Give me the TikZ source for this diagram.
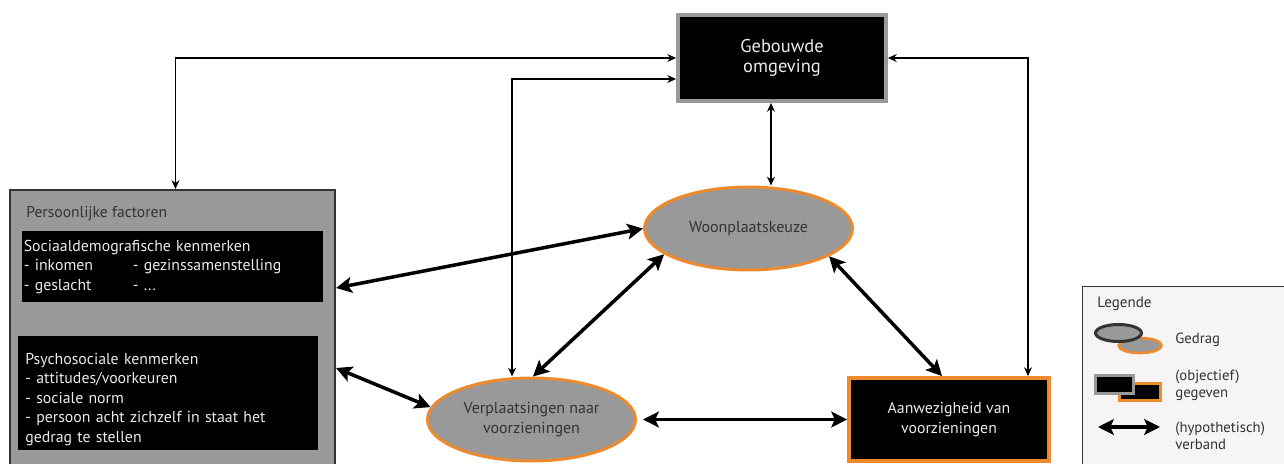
\documentclass[tikz,border=0pt]{standalone}
\usepackage{fontspec}
\setmainfont{PT Sans}
\usetikzlibrary{shapes.geometric, positioning, arrows.meta, calc}
\definecolor{oranje}{HTML}{EE8A2E}
\definecolor{grijs}{HTML}{999999}
\definecolor{donker}{HTML}{333333}
\definecolor{legendbg}{HTML}{F6F5F4}

\begin{document}
\begin{tikzpicture}[
    x=0.02cm, y=-0.02cm,
    given/.style={rectangle, fill=black, text=white!92!black, align=center, inner sep=0pt, font=\fontsize{9}{11.3}\selectfont},
    behaviour/.style={ellipse, fill=grijs, draw=oranje, line width=1.7pt, text=donker, align=center, inner sep=0pt, minimum width=4.16cm, minimum height=1.66cm, font=\fontsize{9.1}{11.3}\selectfont},
    kenmerk/.style={rectangle, fill=black, text=white!92!black, align=left, anchor=north west, inner ysep=0pt, font=\fontsize{9}{11.1}\selectfont},
    legtext/.style={anchor=west, inner sep=0pt, text=donker, align=left, font=\fontsize{8.4}{9.6}\selectfont},
    link/.style={{Stealth[length=9pt, width=9pt, inset=2pt]}-{Stealth[length=9pt, width=9pt, inset=2pt]}, line width=2pt},
    thinlink/.style={{Stealth[length=5pt, width=4.5pt]}-{Stealth[length=5pt, width=4.5pt]}, line width=0.8pt},
]
\useasboundingbox (0,0) rectangle (1284,463);

%% NODES
    % gebouwde omgeving
    \node[given, draw=grijs, line width=2.2pt, minimum width=4.16cm, minimum height=1.72cm, font=\fontsize{10.5}{11.5}\selectfont] (gebouwde_box) at (782,58) {Gebouwde\\omgeving};

    % persoonlijke factoren
    \node[rectangle, fill=grijs, draw=donker, line width=1.2pt, minimum width=6.5cm, minimum height=5.6cm] (persoon_box) at (172.5,330) {};
    \node[anchor=west, inner sep=0pt, text=donker, font=\fontsize{8.9}{11}\selectfont] (persoon_title) at (26,214) {Persoonlijke factoren};
    \node[kenmerk, inner xsep=0.03cm, text width=5.96cm, minimum height=1.42cm] (socio_box) at (22,231)
        {Sociaaldemografische kenmerken\\
         \makebox[2.18cm][l]{- inkomen}- gezinssamenstelling\\
         \makebox[2.18cm][l]{- geslacht}- ...};
    \node[kenmerk, inner xsep=0.14cm, text width=5.72cm, minimum height=2.28cm] (psycho_box) at (18,336)
        {\rule{0pt}{13pt}Psychosociale kenmerken\\
         - attitudes/voorkeuren\\
         - sociale norm\\
         - persoon acht zichzelf in staat het\\
         gedrag te stellen};

    % gedrag
    \node[behaviour] (woon_ell) at (748.5,228.5) {Woonplaatskeuze};
    \node[behaviour] (verpl_ell) at (531.5,419.5) {Verplaatsingen naar\\voorzieningen};

    % aanwezigheid
    \node[given, draw=oranje, line width=2.2pt, minimum width=4.0cm, minimum height=1.66cm] (aanw_box) at (949,419.5) {Aanwezigheid van\\voorzieningen};

    % legende
    \node[rectangle, fill=legendbg, draw=donker, line width=0.8pt, anchor=north west, minimum width=4.4cm, minimum height=4cm] (legend_box) at (1082,286) {};
    \node[anchor=west, inner sep=0pt, text=donker, font=\fontsize{8.6}{10}\selectfont] (legend_title) at (1097,304) {Legende};
    \node[ellipse, fill=grijs, draw=oranje, line width=1.5pt, minimum width=0.86cm, minimum height=0.3cm, inner sep=0pt] (legend_oranje_ell) at (1140,345.5) {};
    \node[ellipse, fill=grijs, draw=donker, line width=1.7pt, minimum width=0.92cm, minimum height=0.34cm, inner sep=0pt] (legend_donker_ell) at (1118.5,333) {};
    \node[rectangle, fill=black, draw=oranje, line width=1.7pt, minimum width=0.82cm, minimum height=0.34cm, inner sep=0pt] (legend_oranje_rect) at (1140,392) {};
    \node[rectangle, fill=black, draw=grijs, line width=2pt, minimum width=0.76cm, minimum height=0.36cm, inner sep=0pt] (legend_grijs_rect) at (1114.5,384.5) {};
    \coordinate (legend_arrow_start) at (1098,427);
    \coordinate (legend_arrow_end) at (1160,427);
    \node[legtext] (legend_gedrag) at (1175,340) {Gedrag};
    \node[legtext] (legend_gegeven) at (1175,385) {(objectief)\\gegeven};
    \node[legtext] (legend_verband) at (1175,436) {(hypothetisch)\\verband};

%% CONNECTIONS
    % persoonlijke factoren <-> gebouwde omgeving
    \draw[thinlink] ([xshift=0.06cm]persoon_box.north) |- (gebouwde_box.west);

    % verplaatsingen <-> gebouwde omgeving
    \draw[thinlink] ([xshift=-0.39cm]verpl_ell.north) |- ([yshift=-0.42cm]gebouwde_box.west);

    % gebouwde omgeving <-> woonplaatskeuze
    \draw[thinlink] ([xshift=-0.22cm]gebouwde_box.south) -- ([xshift=-0.22cm]gebouwde_box.south |- woon_ell.north);

    % gebouwde omgeving <-> aanwezigheid
    \draw[thinlink] (gebouwde_box.east) -| ([xshift=1.58cm]aanw_box.north);

    % persoonlijke factoren <-> woonplaatskeuze
    \draw[link] ([yshift=0.84cm]persoon_box.east) -- (woon_ell.west);

    % persoonlijke factoren <-> verplaatsingen
    \draw[link] ([yshift=-0.76cm]persoon_box.east) -- (verpl_ell.173);

    % woonplaatskeuze <-> verplaatsingen
    \draw[link] (woon_ell.197) -- (verpl_ell.88);

    % woonplaatskeuze <-> aanwezigheid
    \draw[link] (woon_ell.-19) -- ([xshift=-0.14cm]aanw_box.north);

    % verplaatsingen <-> aanwezigheid
    \draw[link] ([xshift=0.12cm]verpl_ell.east) -- (aanw_box.west |- verpl_ell.east);

    % legende
    \draw[link] (legend_arrow_start) -- (legend_arrow_end);

\end{tikzpicture}
\end{document}
